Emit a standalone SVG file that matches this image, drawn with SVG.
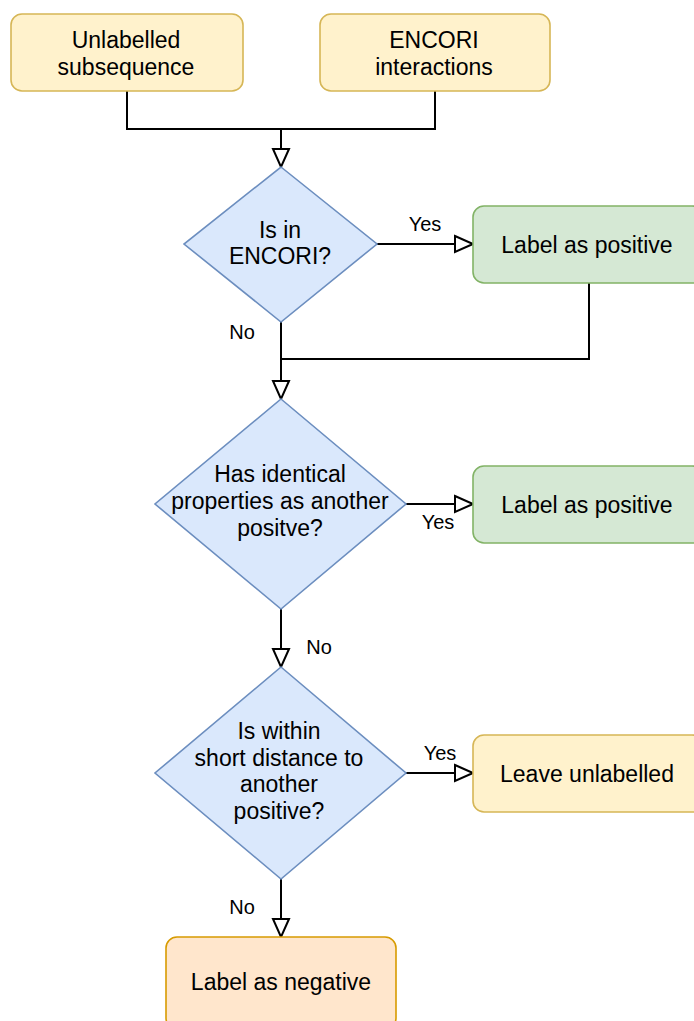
<svg xmlns="http://www.w3.org/2000/svg" width="694" height="1021" viewBox="0 0 694 1021">
<style>
.t{font-family:"Liberation Sans",Arial,sans-serif;font-size:23px;fill:#000;text-anchor:middle;dominant-baseline:central}
.l{font-family:"Liberation Sans",Arial,sans-serif;font-size:20px;fill:#000;text-anchor:middle;dominant-baseline:central}
.y{fill:#fff2cc;stroke:#d6b656;stroke-width:1.6}
.g{fill:#d5e8d4;stroke:#82b366;stroke-width:1.6}
.b{fill:#dae8fc;stroke:#6c8ebf;stroke-width:1.6}
.o{fill:#ffe6cc;stroke:#d79b00;stroke-width:1.6}
.c{fill:none;stroke:#000;stroke-width:2}
</style>
<defs>
<marker id="a" markerUnits="userSpaceOnUse" markerWidth="22" markerHeight="20" refX="20" refY="10" orient="auto">
<path d="M2,2 L20,10 L2,18 Z" fill="#fff" stroke="#000" stroke-width="2"/>
</marker>
</defs>
<g id="connectors">
<path class="c" d="M127,91 V129 H435 V91"/>
<path class="c" d="M281,129 V167" marker-end="url(#a)"/>
<path class="c" d="M377,244 H473" marker-end="url(#a)"/>
<path class="c" d="M589,283 V359 H281"/>
<path class="c" d="M281,322 V399" marker-end="url(#a)"/>
<path class="c" d="M406,504 H473" marker-end="url(#a)"/>
<path class="c" d="M281,609 V667" marker-end="url(#a)"/>
<path class="c" d="M406,773 H473" marker-end="url(#a)"/>
<path class="c" d="M281,879 V937" marker-end="url(#a)"/>
<text class="l" x="425" y="224">Yes</text>
<text class="l" x="242" y="332">No</text>
<text class="l" x="438" y="522">Yes</text>
<text class="l" x="319" y="647">No</text>
<text class="l" x="440" y="753">Yes</text>
<text class="l" x="242" y="907">No</text>
</g>
<g id="unlabelled">
<rect class="y" x="11" y="14" width="232" height="77" rx="11"/>
<text class="t" x="126" y="40">Unlabelled</text>
<text class="t" x="126" y="67">subsequence</text>
</g>
<g id="encori">
<rect class="y" x="320" y="14" width="230" height="77" rx="11"/>
<text class="t" x="434" y="40">ENCORI</text>
<text class="t" x="434" y="67">interactions</text>
</g>
<g id="d1">
<path class="b" d="M281,167 L377,244 L281,322 L184,244 Z"/>
<text class="t" x="280" y="230">Is in</text>
<text class="t" x="280" y="256">ENCORI?</text>
</g>
<g id="pos1">
<rect class="g" x="473" y="206" width="230" height="77" rx="11"/>
<text class="t" x="587" y="245">Label as positive</text>
</g>
<g id="d2">
<path class="b" d="M281,399 L406,504 L281,609 L155,504 Z"/>
<text class="t" x="280" y="474">Has identical</text>
<text class="t" x="280" y="501">properties as another</text>
<text class="t" x="280" y="528">positve?</text>
</g>
<g id="pos2">
<rect class="g" x="473" y="466" width="230" height="77" rx="11"/>
<text class="t" x="587" y="505">Label as positive</text>
</g>
<g id="d3">
<path class="b" d="M281,667 L406,773 L281,879 L155,773 Z"/>
<text class="t" x="279" y="731">Is within</text>
<text class="t" x="279" y="758">short distance to</text>
<text class="t" x="279" y="784">another</text>
<text class="t" x="279" y="811">positive?</text>
</g>
<g id="leave">
<rect class="y" x="473" y="735" width="230" height="77" rx="11"/>
<text class="t" x="587" y="774">Leave unlabelled</text>
</g>
<g id="neg">
<rect class="o" x="166" y="937" width="230" height="92" rx="11"/>
<text class="t" x="281" y="982">Label as negative</text>
</g>
</svg>
